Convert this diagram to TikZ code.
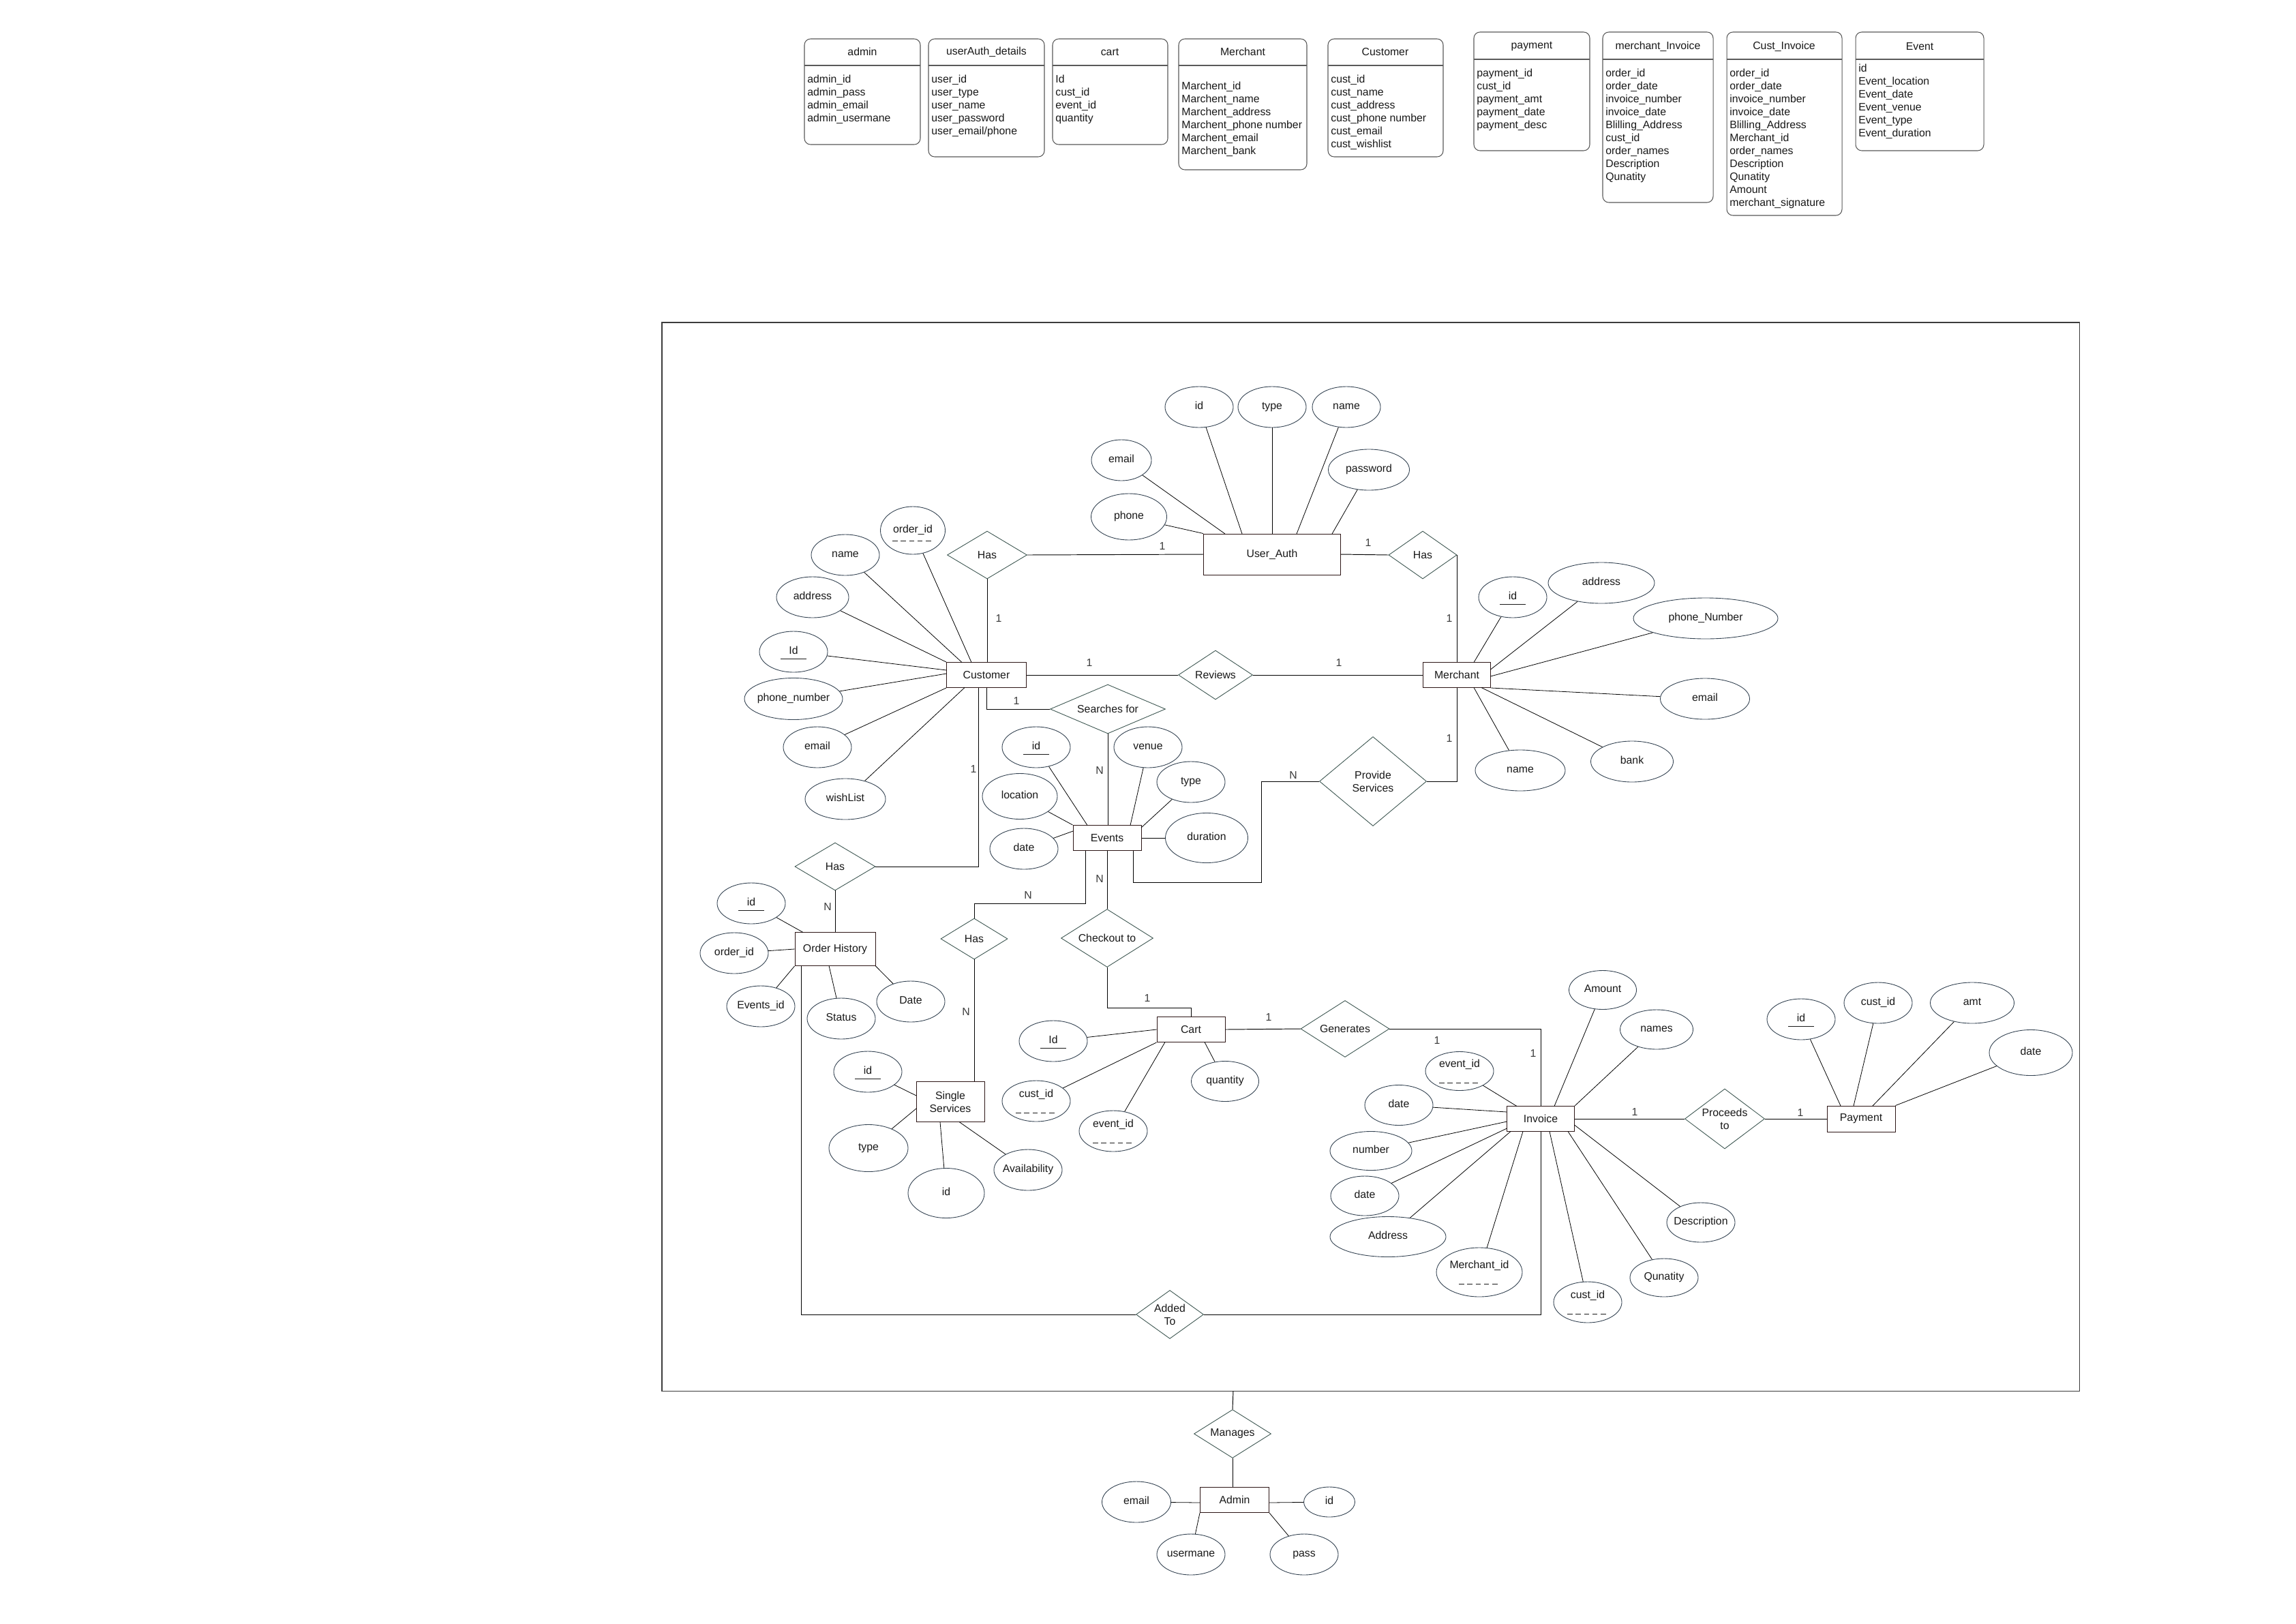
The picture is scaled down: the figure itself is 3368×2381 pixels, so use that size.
\documentclass[tikz,border=0pt]{standalone}
\usepackage{fontspec}
\setmainfont{Liberation Sans}
\usetikzlibrary{shapes.geometric}
\definecolor{ellcol}{RGB}{50,65,80}
\definecolor{relcol}{RGB}{60,85,80}
\definecolor{entcol}{RGB}{45,22,22}
\definecolor{tblcol}{RGB}{90,90,90}
\definecolor{txt}{RGB}{25,25,25}
\definecolor{boxcol}{RGB}{60,60,60}
\begin{document}
\begin{tikzpicture}[x=0.2mm,y=-0.2mm,
  every node/.style={font=\fontsize{9}{10.8}\selectfont, text=txt},
  attr/.style 2 args={ellipse, draw=ellcol, line width=0.5pt, minimum width=#1*0.2mm, minimum height=#2*0.2mm,
    inner sep=0pt, text height=2.2mm, text depth=0.8mm,
    execute at begin node={\hbox to 0pt\bgroup\hss}, execute at end node={\hss\egroup}},
  pk/.style={path picture={\draw[line width=0.55pt,txt] ([shift={(-19,10)}]path picture bounding box.center) -- ++(38,0);}},
  fk/.style={path picture={\draw[line width=0.45pt,txt,dash pattern=on 1.5mm off 0.95mm] ([shift={(-30,#1)}]path picture bounding box.center) -- ++(61,0);}},
  ent/.style 2 args={rectangle, draw=entcol, line width=0.55pt, minimum width=#1*0.2mm, minimum height=#2*0.2mm, inner sep=0pt, align=center},
  rel/.style 2 args={diamond, draw=relcol, line width=0.5pt, minimum width=#1*0.2mm, minimum height=#2*0.2mm, inner sep=0pt, aspect=1.6, align=center},
  lab/.style={inner sep=0pt, text=txt!85},
  aline/.style={line width=0.45pt, black},
  rline/.style={line width=0.55pt, black},
  tbl/.style={draw=tblcol, line width=0.6pt, rounded corners=1.8mm},
  tdiv/.style={draw=tblcol, line width=0.6pt},
  thead/.style={inner sep=0pt},
  tbody/.style={anchor=north west, inner sep=0pt, align=left}
]
\fill[white] (0,0) rectangle (3368,2381);
\useasboundingbox (0,0) rectangle (3368,2381);

% ---------------- tables ----------------
\draw[tbl] (1180,57) rectangle (1350,212);
\draw[tdiv] (1180,96) -- (1350,96);
\node[thead] (tAdminH) at (1265,76) {admin};
\node[tbody] (tAdminB) at (1184,108) {\strut admin\_id\\admin\_pass\\admin\_email\\admin\_usermane};

\draw[tbl] (1362,57) rectangle (1532,230);
\draw[tdiv] (1362,96) -- (1532,96);
\node[thead] (tUAH) at (1447,76) {userAuth\_details};
\node[tbody] (tUAB) at (1366,108) {\strut user\_id\\user\_type\\user\_name\\user\_password\\user\_email/phone};

\draw[tbl] (1544,57) rectangle (1713,212);
\draw[tdiv] (1544,96) -- (1713,96);
\node[thead] (tCartH) at (1628,76) {cart};
\node[tbody] (tCartB) at (1548,108) {\strut Id\\cust\_id\\event\_id\\quantity};

\draw[tbl] (1729,57) rectangle (1917,249);
\draw[tdiv] (1729,96) -- (1917,96);
\node[thead] (tMerH) at (1823,76) {Merchant};
\node[tbody] (tMerB) at (1733,118) {\strut Marchent\_id\\Marchent\_name\\Marchent\_address\\Marchent\_phone number\\Marchent\_email\\Marchent\_bank};

\draw[tbl] (1948,57) rectangle (2117,230);
\draw[tdiv] (1948,96) -- (2117,96);
\node[thead] (tCusH) at (2032,76) {Customer};
\node[tbody] (tCusB) at (1952,108) {\strut cust\_id\\cust\_name\\cust\_address\\cust\_phone number\\cust\_email\\cust\_wishlist};

\draw[tbl] (2162,47) rectangle (2332,221);
\draw[tdiv] (2162,87) -- (2332,87);
\node[thead] (tPayH) at (2247,68) {payment};
\node[tbody] (tPayB) at (2166,99) {\strut payment\_id\\cust\_id\\payment\_amt\\payment\_date\\payment\_desc};

\draw[tbl] (2351,47) rectangle (2513,297);
\draw[tdiv] (2351,87) -- (2513,87);
\node[thead] (tMInvH) at (2432,68) {merchant\_Invoice};
\node[tbody] (tMInvB) at (2355,99) {\strut order\_id\\order\_date\\invoice\_number\\invoice\_date\\Blilling\_Address\\cust\_id\\order\_names\\Description\\Qunatity};

\draw[tbl] (2533,47) rectangle (2702,316);
\draw[tdiv] (2533,87) -- (2702,87);
\node[thead] (tCInvH) at (2617,68) {Cust\_Invoice};
\node[tbody] (tCInvB) at (2537,99) {\strut order\_id\\order\_date\\invoice\_number\\invoice\_date\\Blilling\_Address\\Merchant\_id\\order\_names\\Description\\Qunatity\\Amount\\merchant\_signature};

\draw[tbl] (2722,47) rectangle (2910,221);
\draw[tdiv] (2722,87) -- (2910,87);
\node[thead] (tEvH) at (2816,68) {Event};
\node[tbody] (tEvB) at (2726,92) {\strut id\\Event\_location\\Event\_date\\Event\_venue\\Event\_type\\Event\_duration};

% ---------------- big frame ----------------
\draw[boxcol, line width=0.6pt] (971,473) rectangle (3050,2040);
\coordinate (bigtop) at (1809,2040);

% ---------------- entities ----------------
\node[ent={201}{60}] (ua) at (1866,813) {User\_Auth};
\node[ent={117}{37}] (cust) at (1447,990) {Customer};
\node[ent={99}{37}] (merch) at (2137,990) {Merchant};
\node[ent={100}{37}] (events) at (1624,1229) {Events};
\node[ent={118}{49}] (oh) at (1225,1392) {Order History};
\node[ent={100}{59}] (ss) at (1394,1616) {Single\\Services};
\node[ent={100}{37}] (cart) at (1747,1510) {Cart};
\node[ent={99}{37}] (inv) at (2260,1641) {Invoice};
\node[ent={100}{38}] (pay) at (2730,1641) {Payment};
\node[ent={101}{37}] (admin) at (1811,2200) {Admin};

% ---------------- relationships ----------------
\node[rel={117}{70}] (hasL) at (1448,814) {Has};
\node[rel={100}{70}] (hasR) at (2087,814) {Has};
\node[rel={109}{72}] (rev) at (1783,990) {Reviews};
\node[rel={169}{72}, aspect=2.5] (search) at (1625,1040) {Searches for};
\node[rel={157}{131}] (ps) at (2014,1146) {Provide\\Services};
\node[rel={118}{70}] (hasOH) at (1225,1271) {Has};
\node[rel={98}{60}] (hasSS) at (1429,1377) {Has};
\node[rel={135}{85}] (checkout) at (1624,1376) {Checkout to};
\node[rel={130}{83}] (gen) at (1973,1509) {Generates};
\node[rel={117}{88}, aspect=1.3] (proc) at (2530,1641) {Proceeds\\to};
\node[rel={99}{71}, aspect=1.3] (added) at (1716,1928) {Added\\To};
\node[rel={113}{71}] (manages) at (1808,2103) {Manages};

% ---------------- attributes ----------------
\node[attr={100}{60}] (uaId) at (1759,597) {id};
\node[attr={100}{60}] (uaType) at (1866,597) {type};
\node[attr={100}{60}] (uaName) at (1975,597) {name};
\node[attr={88}{60}] (uaEmail) at (1645,675) {email};
\node[attr={111}{68}] (uaPhone) at (1656,758) {phone};
\node[attr={119}{60}] (uaPass) at (2008,689) {password};

\node[attr={95}{70}, fk=15] (cOrd) at (1339,778) {order\_id};
\node[attr={100}{60}] (cName) at (1240,814) {name};
\node[attr={106}{60}] (cAddr) at (1192,876) {address};
\node[attr={100}{60}, pk] (cId) at (1164,956) {Id};
\node[attr={144}{61}] (cPhone) at (1164,1025) {phone\_number};
\node[attr={100}{60}] (cEmail) at (1199,1096) {email};
\node[attr={118}{60}] (cWish) at (1240,1172) {wishList};

\node[attr={100}{60}, pk] (mId) at (2219,876) {id};
\node[attr={156}{60}] (mAddr) at (2349,855) {address};
\node[attr={212}{60}] (mPhone) at (2502,907) {phone\_Number};
\node[attr={131}{60}] (mEmail) at (2501,1025) {email};
\node[attr={121}{60}] (mBank) at (2394,1117) {bank};
\node[attr={132}{60}] (mName) at (2230,1130) {name};

\node[attr={100}{60}, pk] (eId) at (1520,1096) {id};
\node[attr={100}{60}] (eVenue) at (1684,1096) {venue};
\node[attr={100}{60}] (eType) at (1747,1147) {type};
\node[attr={110}{67}] (eLoc) at (1496,1168) {location};
\node[attr={100}{60}] (eDate) at (1502,1245) {date};
\node[attr={121}{73}] (eDur) at (1770,1229) {duration};

\node[attr={100}{60}, pk] (ohId) at (1102,1325) {id};
\node[attr={100}{60}] (ohOrd) at (1077,1398) {order\_id};
\node[attr={100}{60}] (ohEv) at (1116,1476) {Events\_id};
\node[attr={100}{60}] (ohStatus) at (1234,1494) {Status};
\node[attr={100}{60}] (ohDate) at (1336,1469) {Date};

\node[attr={100}{60}, pk] (ssId) at (1273,1572) {id};
\node[attr={116}{69}] (ssType) at (1274,1684) {type};
\node[attr={112}{73}] (ssId2) at (1388,1750) {id};
\node[attr={100}{60}] (ssAvail) at (1508,1716) {Availability};

\node[attr={100}{60}, pk] (caId) at (1545,1527) {Id};
\node[attr={100}{60}, fk=17] (caCust) at (1520,1615) {\raisebox{1.8mm}{cust\_id}};
\node[attr={100}{60}, fk=17] (caEv) at (1633,1659) {\raisebox{1.8mm}{event\_id}};
\node[attr={99}{59}] (caQty) at (1797,1586) {quantity};

\node[attr={100}{57}, fk=17] (iEv) at (2141,1571) {\raisebox{1.8mm}{event\_id}};
\node[attr={100}{59}] (iDate1) at (2052,1621) {date};
\node[attr={120}{57}] (iNum) at (2011,1688) {number};
\node[attr={100}{58}] (iDate2) at (2002,1754) {date};
\node[attr={170}{59}] (iAddr) at (2036,1814) {Address};
\node[attr={126}{72}, fk=17] (iMer) at (2170,1866) {\raisebox{1.8mm}{Merchant\_id}};
\node[attr={100}{60}, fk=17] (iCust) at (2329,1910) {\raisebox{1.8mm}{cust\_id}};
\node[attr={100}{56}] (iQty) at (2441,1874) {Qunatity};
\node[attr={100}{58}] (iDesc) at (2495,1793) {Description};
\node[attr={99}{57}] (iAmt) at (2351,1452) {Amount};
\node[attr={107}{58}] (iNames) at (2430,1510) {names};

\node[attr={100}{60}, pk] (pId) at (2642,1495) {id};
\node[attr={100}{60}] (pCust) at (2755,1471) {cust\_id};
\node[attr={123}{60}] (pAmt) at (2893,1471) {amt};
\node[attr={122}{67}] (pDate) at (2979,1544) {date};

\node[attr={101}{60}] (aEmail) at (1667,2203) {email};
\node[attr={75}{44}] (aId) at (1950,2203) {id};
\node[attr={100}{60}] (aUser) at (1747,2280) {usermane};
\node[attr={100}{60}] (aPass) at (1913,2280) {pass};

% ---------------- attribute lines ----------------
\draw[aline] (uaId) -- ([shift={(-44,-30)}]ua.center);
\draw[aline] (uaType) -- (ua.north);
\draw[aline] (uaName) -- ([shift={(36,-30)}]ua.center);
\draw[aline] (uaEmail) -- ([shift={(-69,-30)}]ua.center);
\draw[aline] (uaPhone) -- (ua.north west);
\draw[aline] (uaPass) -- ([shift={(88,-30)}]ua.center);

\draw[aline] (cOrd) -- ([shift={(-22,-18.5)}]cust.center);
\draw[aline] (cName) -- ([shift={(-36,-18.5)}]cust.center);
\draw[aline] (cAddr) -- (cust.north west);
\draw[aline] (cId) -- ([shift={(-58.5,-7)}]cust.center);
\draw[aline] (cPhone) -- ([shift={(-58.5,-2)}]cust.center);
\draw[aline] (cEmail) -- (cust.south west);
\draw[aline] (cWish) -- ([shift={(-32,18.5)}]cust.center);

\draw[aline] (mId) -- ([shift={(25,-18.5)}]merch.center);
\draw[aline] (mAddr) -- ([shift={(49.5,-8)}]merch.center);
\draw[aline] (mPhone) -- ([shift={(49.5,2)}]merch.center);
\draw[aline] (mEmail) -- (merch.south east);
\draw[aline] (mBank) -- ([shift={(36,18.5)}]merch.center);
\draw[aline] (mName) -- ([shift={(25,18.5)}]merch.center);

\draw[aline] (eId) -- ([shift={(-29,-18.5)}]events.center);
\draw[aline] (eVenue) -- ([shift={(34,-18.5)}]events.center);
\draw[aline] (eType) -- ([shift={(50,-15)}]events.center);
\draw[aline] (eLoc) -- (events.north west);
\draw[aline] (eDate) -- ([shift={(-50,-10)}]events.center);
\draw[aline] (eDur) -- (events.east);

\draw[aline] (ohId) -- ([shift={(-47,-24.5)}]oh.center);
\draw[aline] (ohOrd) -- (oh.west);
\draw[aline] (ohEv) -- (oh.south west);
\draw[aline] (ohStatus) -- ([shift={(-9,24.5)}]oh.center);
\draw[aline] (ohDate) -- (oh.south east);

\draw[aline] (ssId) -- ([shift={(-50,-9)}]ss.center);
\draw[aline] (ssType) -- ([shift={(-50,10)}]ss.center);
\draw[aline] (ssId2) -- ([shift={(-15,29.5)}]ss.center);
\draw[aline] (ssAvail) -- ([shift={(13,29.5)}]ss.center);

\draw[aline] (caId) -- (cart.west);
\draw[aline] (caCust) -- (cart.south west);
\draw[aline] (caEv) -- ([shift={(-38,18.5)}]cart.center);
\draw[aline] (caQty) -- ([shift={(20,18.5)}]cart.center);

\draw[aline] (iEv) -- ([shift={(-35,-18.5)}]inv.center);
\draw[aline] (iDate1) -- ([shift={(-49.5,-10)}]inv.center);
\draw[aline] (iNum) -- ([shift={(-49.5,4)}]inv.center);
\draw[aline] (iDate2) -- ([shift={(-49.5,14)}]inv.center);
\draw[aline] (iAddr) -- ([shift={(-44,18.5)}]inv.center);
\draw[aline] (iMer) -- ([shift={(-26,18.5)}]inv.center);
\draw[aline] (iCust) -- ([shift={(13,18.5)}]inv.center);
\draw[aline] (iQty) -- ([shift={(40,18.5)}]inv.center);
\draw[aline] (iDesc) -- ([shift={(49.5,9)}]inv.center);
\draw[aline] (iAmt) -- ([shift={(20,-18.5)}]inv.center);
\draw[aline] (iNames) -- (inv.north east);

\draw[aline] (pId) -- ([shift={(-30,-19)}]pay.center);
\draw[aline] (pCust) -- ([shift={(-11,-19)}]pay.center);
\draw[aline] (pAmt) -- ([shift={(17,-19)}]pay.center);
\draw[aline] (pDate) -- (pay.north east);

\draw[aline] (aEmail) -- ([shift={(-50.5,4)}]admin.center);
\draw[aline] (aId) -- ([shift={(50.5,4)}]admin.center);
\draw[aline] (aUser) -- (admin.south west);
\draw[aline] (aPass) -- (admin.south east);

% ---------------- relationship lines ----------------
\draw[rline] (hasL.east) -- (ua.west);
\draw[rline] (ua.east) -- (hasR.west);
\draw[rline] (hasL.south) -- (hasL.south |- cust.north);
\draw[rline] (hasR.east) -| (merch.north);
\draw[rline] (cust.east) -- (rev.west);
\draw[rline] (rev.east) -- (merch.west);
\draw[rline] (cust.south) |- (search.west);
\draw[rline] (search.south) -- (search.south |- events.north);
\draw[rline] ([shift={(-12,18.5)}]cust.center) |- (hasOH.east);
\draw[rline] (hasOH.south) -- (oh.north);
\draw[rline] ([shift={(38,18.5)}]events.center) -- ++(0,47) -| ([shift={(-85,0)}]ps.west) -- (ps.west);
\draw[rline] (merch.south) |- (ps.east);
\draw[rline] ([shift={(-32,18.5)}]events.center) -- ++(0,78) -| (hasSS.north);
\draw[rline] (hasSS.south) -- (hasSS.south |- ss.north);
\draw[rline] (events.south) -- (checkout.north);
\draw[rline] (checkout.south) -- ++(0,60) -| (cart.north);
\draw[rline] (cart.east) -- (gen.west);
\draw[rline] (gen.east) -| (inv.north);
\draw[rline] (inv.east) -- (proc.west);
\draw[rline] (proc.east) -- (pay.west);
\draw[rline] ([shift={(-50,24.5)}]oh.center) |- (added.west);
\draw[rline] (inv.south) |- (added.east);
\draw[rline] (bigtop) -- (manages.north);
\draw[rline] (manages.south) -- (manages.south |- admin.north);

% ---------------- cardinality labels ----------------
\node[lab] (l1) at (1705,801) {1};
\node[lab] (l2) at (2007,796) {1};
\node[lab] (l3) at (1465,907) {1};
\node[lab] (l4) at (2126,907) {1};
\node[lab] (l5) at (1598,972) {1};
\node[lab] (l6) at (1964,972) {1};
\node[lab] (l7) at (1491,1028) {1};
\node[lab] (l8) at (1613,1130) {N};
\node[lab] (l9) at (1428,1128) {1};
\node[lab] (l10) at (1214,1330) {N};
\node[lab] (l11) at (1897,1137) {N};
\node[lab] (l12) at (2126,1083) {1};
\node[lab] (l13) at (1508,1313) {N};
\node[lab] (l14) at (1613,1289) {N};
\node[lab] (l15) at (1417,1484) {N};
\node[lab] (l16) at (1683,1464) {1};
\node[lab] (l17) at (1861,1492) {1};
\node[lab] (l18) at (2108,1526) {1};
\node[lab] (l19) at (2249,1545) {1};
\node[lab] (l20) at (2398,1631) {1};
\node[lab] (l21) at (2641,1632) {1};
\end{tikzpicture}
\end{document}
